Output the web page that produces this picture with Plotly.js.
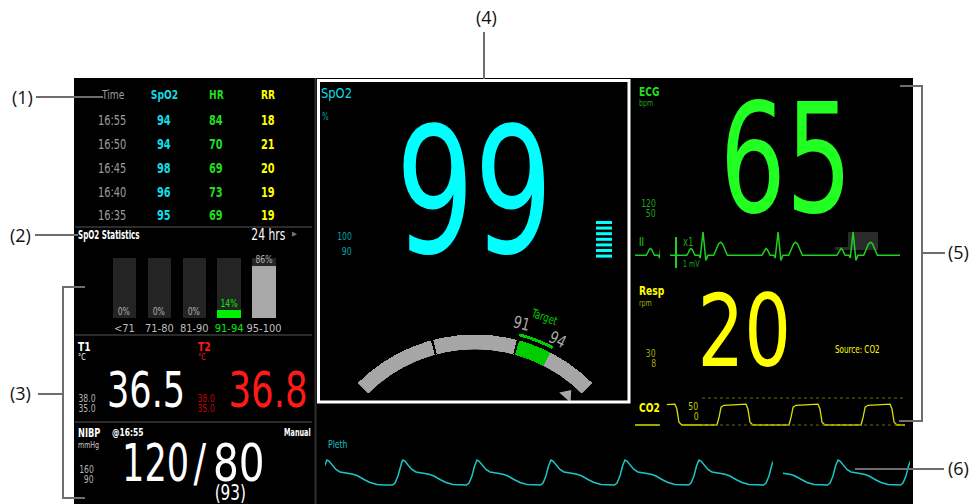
<!DOCTYPE html>
<html><head><meta charset="utf-8">
<script src="https://cdn.plot.ly/plotly-3.0.1.min.js"></script>
<style>html,body{margin:0;padding:0;background:#fff;overflow:hidden}</style>
</head><body><div id="chart" style="width:977px;height:504px"></div>
<script>
// ================= DATA =================
const trendHeader = ["Time", "SpO2", "HR", "RR"];
const trendTimes = ["16:55", "16:50", "16:45", "16:40", "16:35"];
const trendSpO2 = [94, 94, 98, 96, 95];
const trendHR = [84, 70, 69, 73, 69];
const trendRR = [18, 21, 20, 19, 19];

const statRanges = ["<71", "71-80", "81-90", "91-94", "95-100"];
const statPercent = [0, 0, 0, 14, 86];
const statPeriod = "24 hrs";

const spo2Value = 99;
const spo2Limits = [100, 90];
const spo2Target = [91, 94];

const t1Value = "36.5", t2Value = "36.8";
const tempLimits = ["38.0", "35.0"];

const nibpSys = 120, nibpDia = 80, nibpMean = 93;
const nibpTime = "16:55", nibpMode = "Manual";
const nibpLimits = [160, 90];

const hrValue = 65, hrLimits = [120, 50];
const rrValue = 20, rrLimits = [30, 8], rrSource = "CO2";
const co2Scale = [0, 50];

// ECG lead II: one beat (s relative to R peak, mV)
const ecgBeatT = [-0.2, -0.18, -0.165, -0.148, -0.131, -0.116, -0.098, -0.05, -0.035, 0, 0.035, 0.06, 0.13, 0.16, 0.19, 0.215, 0.24, 0.27, 0.3];
const ecgBeatV = [0, 0.09, 0.18, 0.22, 0.18, 0.09, 0, 0, -0.08, 0.74, -0.16, 0, 0, 0.18, 0.36, 0.42, 0.36, 0.18, 0];
const ecgOldBeats = [0.338];
const ecgNewBeats = [0.837, 1.76, 2.683];
const ecgGap = [0.308, 0.43];
const ecgSpan = 3.26;

// CO2 capnogram: one breath (s relative to upstroke, mmHg)
const co2BreathT = [0, 0.09, 0.17, 0.29, 0.6, 0.9, 1.2, 1.28, 1.37, 1.49];
const co2BreathV = [0, 15, 33, 36.5, 37.3, 38, 38.5, 30, 5, 0];
const co2OldBreaths = [];
const co2NewBreaths = [0.45, 3.39, 6.37, 9.35];
const co2Gap = [1.03, 1.32];
const co2Span = 11.17;

// Pleth: one pulse (s relative to peak, normalised amplitude)
const plethBeatT = [-0.132, -0.1, -0.063, -0.031, -0.013, 0, 0.025, 0.063, 0.113, 0.164, 0.214, 0.277, 0.34, 0.39, 0.466, 0.542, 0.63, 0.705];
const plethBeatV = [0, 0.08, 0.36, 0.76, 0.94, 1, 0.96, 0.8, 0.62, 0.52, 0.48, 0.46, 0.42, 0.36, 0.22, 0.1, 0.02, 0];
const plethNewBeats = [0.025, 0.982, 1.914, 2.846, 3.778, 4.71, 5.655];
const plethOldBeats = [5.529, 6.461, 7.38];
const plethGap = [5.642, 5.768];
const plethSpan = 7.368;

// ================= HELPERS =================
const W = 977, H = 504;
const X = px => px / W, Y = py => 1 - py / H;
const F = "'DejaVu Sans Condensed','Liberation Sans Narrow',sans-serif";
const LBL = "'Open Sans','DejaVu Sans',sans-serif";
const CYAN = '#00ffff', CYAN_T = '#10dce6', CYAN_D = '#00a6aa';
const GREEN = '#22ff22', GREEN_T = '#22dd22', GREEN_D = '#1fa51f';
const YELLOW = '#ffff00', YELLOW_D = '#a8a800';
const RED = '#ff1a1a', RED_D = '#c00000';
const GRAYT = '#9c9c9c';
const SQ = 0.78; // condensed look of the monitor font

function sweep(tT, tV, beats, from, to, base) {
  let pts = [];
  beats.forEach(b => tT.forEach((t, i) => pts.push([b + t, tV[i]])));
  const inBeat = t => beats.some(b => t >= b + tT[0] && t <= b + tT[tT.length - 1]);
  if (!inBeat(from)) pts.push([from, base]);
  if (!inBeat(to)) pts.push([to, base]);
  pts.sort((a, b) => a[0] - b[0]);
  let lo = 0; while (lo < pts.length - 1 && pts[lo + 1][0] <= from) lo++;
  let hi = pts.length - 1; while (hi > 0 && pts[hi - 1][0] >= to) hi--;
  const sel = pts.slice(lo, hi + 1);
  return {x: sel.map(p => p[0]), y: sel.map(p => p[1])};
}

const ann = [];
const squash = [];
function T(x, y, text, size, color, o = {}) {
  ann.push({xref: o.xref || 'x', yref: o.yref || 'y', x, y, text, showarrow: false, yshift: o.yshift || 0,
    xanchor: o.xa || 'center', yanchor: o.ya || 'middle', textangle: o.angle || 0,
    font: {family: o.family || F, size, color, weight: o.bold ? 700 : 400}});
  squash.push(o.family ? null : {sx: o.sx || SQ, w: o.w, size, xa: o.xa || 'center'});
}
const shapes = [];
function rect(x0, y0, x1, y1, fill, layer) {
  shapes.push({type: 'rect', xref: 'x', yref: 'y', x0, y0, x1, y1, fillcolor: fill, line: {width: 0}, layer: layer || 'below'});
}
function path(pts, color, width, layer, dash) {
  const d = pts.map((p, i) => (i ? 'L' : 'M') + p[0] + ',' + p[1]).join(' ');
  shapes.push({type: 'path', xref: 'x', yref: 'y', path: d, line: {color, width, dash: dash || 'solid'}, layer: layer || 'above'});
}

// ================= BACKGROUND / FRAMES =================
rect(74, 78, 913, 504, '#000000');
path([[315.5, 78], [315.5, 504]], '#303030', 2);
[227, 335, 422].forEach(y => path([[75, y], [312, y]], '#3a3a3a', 1.5));
shapes.push({type: 'rect', xref: 'x', yref: 'y', x0: 318.5, y0: 80.5, x1: 629, y1: 402, line: {color: '#ffffff', width: 3}, layer: 'above'});
rect(848, 232, 878, 250, '#2b2b2b');
rect(835, 247, 848, 250, '#2b2b2b');

// callout lines
const CL = '#6e6e6e';
path([[36, 97], [103, 97]], CL, 2);
path([[35, 235], [78, 235]], CL, 2);
path([[38, 394], [63, 394]], CL, 2);
path([[85, 287], [63, 287], [63, 498], [85, 498]], CL, 2);
path([[484, 32], [484, 79]], CL, 2);
path([[900, 86], [922, 86], [922, 421], [899, 421]], CL, 2);
path([[922, 253], [945, 253]], CL, 2);
path([[855, 469], [944, 469]], CL, 2);
T(22, 97, '(1)', 18, '#111', {family: LBL});
T(20, 235, '(2)', 18, '#111', {family: LBL});
T(20, 393, '(3)', 18, '#111', {family: LBL});
T(486, 17, '(4)', 18, '#111', {family: LBL});
T(958, 252, '(5)', 18, '#111', {family: LBL});
T(958, 468, '(6)', 18, '#111', {family: LBL});

// ================= TREND TABLE =================
const colX = [112, 164, 216, 268];
const rowY = [120, 144, 168, 192, 215];
const colC = [GRAYT, CYAN_T, GREEN_T, YELLOW];
trendHeader.forEach((h, j) => T(colX[j] + (j === 0 ? 1 : 0), 94, h, 13, colC[j], {bold: j > 0}));
trendTimes.forEach((t, i) => {
  T(colX[0], rowY[i], t, 14, GRAYT);
  T(colX[1], rowY[i], String(trendSpO2[i]), 14, CYAN_T, {bold: true});
  T(colX[2], rowY[i], String(trendHR[i]), 14, GREEN_T, {bold: true});
  T(colX[3], rowY[i], String(trendRR[i]), 14, YELLOW, {bold: true});
});

// ================= SpO2 STATISTICS =================
T(76, 235, 'SpO2 Statistics', 12, '#ffffff', {xa: 'left', bold: true, w: 61});
T(268, 235, statPeriod, 15, '#ffffff', {w: 33});
T(294, 234, '▶', 7, '#777777', {sx: 1});
const inTarget = statRanges.map(r => r === spo2Target.join('-'));
statPercent.forEach((v, i) => {
  T(i, v, v + '%', 11, inTarget[i] ? '#00ee00' : '#b0b0b0', {xref: 'x2', yref: 'y2', ya: 'bottom', yshift: -2});
});

// ================= TEMPERATURE =================
T(76, 346, 'T1', 13, '#ffffff', {xa: 'left', bold: true});
T(76, 357, '°C', 9, '#ffffff', {xa: 'left'});
T(196, 346, 'T2', 13, RED, {xa: 'left', bold: true});
T(196, 357, '°C', 9, RED, {xa: 'left'});
T(87, 398, tempLimits[0], 11, '#b5b5b5');
T(87, 408, tempLimits[1], 11, '#b5b5b5');
T(206, 398, tempLimits[0], 11, RED_D);
T(206, 408, tempLimits[1], 11, RED_D);
T(146, 390, t1Value, 50, '#ffffff', {w: 75});
T(268, 390, t2Value, 50, RED, {w: 76});

// ================= NIBP =================
T(76, 432, 'NIBP', 13, '#ffffff', {xa: 'left', bold: true, w: 22});
T(76, 445, 'mmHg', 9, '#cccccc', {xa: 'left'});
T(128, 432, '@' + nibpTime, 11, '#ffffff', {bold: true, w: 31});
T(313, 432, nibpMode, 11, '#ffffff', {xa: 'right', bold: true, w: 26});
T(96, 469, String(nibpLimits[0]), 11, '#b5b5b5', {xa: 'right'});
T(96, 479, String(nibpLimits[1]), 11, '#b5b5b5', {xa: 'right'});
T(155, 463, String(nibpSys), 52, '#ffffff', {w: 64});
T(200, 463, '/', 52, '#ffffff', {sx: 0.8});
T(239, 463, String(nibpDia), 52, '#ffffff', {w: 48});
T(230, 492, '(' + nibpMean + ')', 22, '#ffffff', {w: 30});

// ================= SpO2 PANEL =================
T(319, 93, 'SpO2', 14, CYAN_T, {xa: 'left', w: 30});
T(320, 116, '%', 10, CYAN_D, {xa: 'left'});
T(474, 192, String(spo2Value), 175, CYAN, {w: 146});
T(354, 236, String(spo2Limits[0]), 11, CYAN_D, {xa: 'right'});
T(354, 251, String(spo2Limits[1]), 11, CYAN_D, {xa: 'right'});
for (let i = 0; i < 7; i++) rect(596, 221 + i * 5.6, 612, 224 + i * 5.6, CYAN, 'above');
T(521, 323, String(spo2Target[0]), 17, '#a8a8a8', {angle: 14, sx: 0.85});
T(557, 339, String(spo2Target[1]), 17, '#a8a8a8', {angle: 27, sx: 0.85});
T(544, 317, 'Target', 12, '#00cc00', {angle: 20, sx: 0.8});

// ================= ECG / RESP / CO2 / PLETH labels =================
T(637, 91, 'ECG', 13, GREEN_T, {xa: 'left', bold: true});
T(637, 103, 'bpm', 9, GREEN_D, {xa: 'left'});
T(786, 159, String(hrValue), 152, GREEN, {w: 123});
T(658, 203, String(hrLimits[0]), 11, GREEN_D, {xa: 'right'});
T(658, 213, String(hrLimits[1]), 11, GREEN_D, {xa: 'right'});
T(637, 242, 'II', 12, GREEN_T, {xa: 'left'});
T(681, 242, 'x1', 12, GREEN_D, {xa: 'left'});
T(681, 264, '1 mV', 9, GREEN_D, {xa: 'left'});
path([[676, 237], [676, 268]], '#22cc22', 2);

T(637, 290, 'Resp', 13, YELLOW, {xa: 'left', bold: true});
T(637, 303, 'rpm', 9, YELLOW_D, {xa: 'left'});
T(744, 331, String(rrValue), 100, YELLOW, {w: 87});
T(833, 349, 'Source: ' + rrSource, 11, YELLOW, {xa: 'left', w: 44});
T(658, 353, String(rrLimits[0]), 11, YELLOW_D, {xa: 'right'});
T(658, 363, String(rrLimits[1]), 11, YELLOW_D, {xa: 'right'});

T(637, 407, 'CO2', 13, YELLOW, {xa: 'left', bold: true});
T(693, co2Scale[1], String(co2Scale[1]), 11, '#cccc00', {yref: 'y4', ya: 'top'});
T(696, co2Scale[0], String(co2Scale[0]), 11, '#cccc00', {yref: 'y4', ya: 'bottom'});
co2Scale.forEach(v => shapes.push({type: 'line', xref: 'x', yref: 'y4', x0: 702, x1: 905, y0: v, y1: v, line: {color: '#6d6d00', width: 1, dash: 'dot'}, layer: 'above'}));

T(326, 444, 'Pleth', 11, '#19c3c3', {xa: 'left'});

// erase bars (sweep gaps)
[['x3', 'y3', ecgGap], ['x4', 'y4', co2Gap], ['x5', 'y5', plethGap]].forEach(([xa, ya, g]) =>
  shapes.push({type: 'rect', xref: xa, yref: ya + ' domain', x0: g[0], x1: g[1], y0: 0, y1: 1, fillcolor: '#000', line: {width: 0}, layer: 'above'}));

// ================= TRACES =================
const traces = [];
traces.push({type: 'scatter', mode: 'markers', xaxis: 'x', yaxis: 'y', x: [567], y: [395],
  marker: {symbol: 'triangle-up', size: 13, angle: 41, color: '#a8a8a8', line: {width: 0}}});

traces.push({type: 'bar', xaxis: 'x2', yaxis: 'y2', x: statRanges.map((r, i) => i), y: statRanges.map(() => 100),
  width: 0.67, marker: {color: '#242424', line: {width: 0}}});
traces.push({type: 'bar', xaxis: 'x2', yaxis: 'y2', x: statRanges.map((r, i) => i), y: statPercent,
  width: 0.67, marker: {color: inTarget.map(t => t ? '#00ee00' : '#a8a8a8'), line: {width: 0}}});

[sweep(ecgBeatT, ecgBeatV, ecgOldBeats, 0, ecgGap[0], 0), sweep(ecgBeatT, ecgBeatV, ecgNewBeats, ecgGap[1], ecgSpan, 0)]
  .forEach(s => traces.push({type: 'scatter', mode: 'lines', xaxis: 'x3', yaxis: 'y3', x: s.x, y: s.y, line: {color: '#1fd01f', width: 1.5}}));
[sweep(co2BreathT, co2BreathV, co2OldBreaths, 0, co2Gap[0], 0), sweep(co2BreathT, co2BreathV, co2NewBreaths, co2Gap[1], co2Span, 0)]
  .forEach(s => traces.push({type: 'scatter', mode: 'lines', xaxis: 'x4', yaxis: 'y4', x: s.x, y: s.y, line: {color: '#dede00', width: 1.3}}));
[sweep(plethBeatT, plethBeatV, plethNewBeats, 0, plethGap[0], 0), sweep(plethBeatT, plethBeatV, plethOldBeats, plethGap[1], plethSpan, 0)]
  .forEach(s => traces.push({type: 'scatter', mode: 'lines', xaxis: 'x5', yaxis: 'y5', x: s.x, y: s.y, line: {color: '#1cc6c6', width: 1.5}}));

const gR = {band: 15, tBase: 19, tW: 3};
function gbar(theta, width, base, r, color) {
  traces.push({type: 'barpolar', subplot: 'polar', theta: [theta], width: [width], base: [base], r: [r],
    marker: {color, line: {width: 0}}});
}
gbar(90, 90, 0, gR.band, '#a6a6a6');
gbar(69, 12, 0, gR.band, '#00cc00');
gbar(75, 0.8, 0, gR.band, '#000000');
gbar(105, 0.8, 0, gR.band, '#000000');
gbar(69, 12, gR.tBase, gR.tW, '#00cc00');

const hid = {visible: false, fixedrange: true};
const layout = {
  width: W, height: H, margin: {l: 0, r: 0, t: 0, b: 0, pad: 0},
  paper_bgcolor: '#ffffff', plot_bgcolor: 'rgba(0,0,0,0)', showlegend: false,
  barmode: 'overlay', bargap: 0,
  xaxis: Object.assign({range: [0, W], domain: [0, 1]}, hid),
  yaxis: Object.assign({range: [H, 0], domain: [0, 1]}, hid),
  xaxis2: {domain: [X(107), X(281.5)], range: [-0.5, 4.5], anchor: 'y2', showgrid: false, zeroline: false, showline: false,
    tickmode: 'array', tickvals: statRanges.map((r, i) => i),
    ticktext: statRanges.map((r, i) => inTarget[i] ? '<span style="color:#00ee00">' + r + '</span>' : r.replace('<', '&lt;')),
    ticks: '', ticklabelstandoff: 2, tickfont: {family: F, size: 11, color: '#bdbdbd'}, fixedrange: true},
  yaxis2: Object.assign({domain: [Y(318), Y(258)], range: [0, 100], anchor: 'x2'}, hid),
  xaxis3: Object.assign({domain: [X(635), X(900)], range: [0, ecgSpan], anchor: 'y3'}, hid),
  yaxis3: Object.assign({domain: [Y(271), Y(224)], range: [-0.5, 1.0], anchor: 'x3'}, hid),
  xaxis4: Object.assign({domain: [X(635), X(905)], range: [0, co2Span], anchor: 'y4'}, hid),
  yaxis4: Object.assign({domain: [Y(427.7), Y(395.3)], range: [-5, 55], anchor: 'x4'}, hid),
  xaxis5: Object.assign({domain: [X(325), X(910)], range: [0, plethSpan], anchor: 'y5'}, hid),
  yaxis5: Object.assign({domain: [Y(490), Y(455)], range: [-0.2, 1.2], anchor: 'x5'}, hid),
  polar: {
    domain: {x: [X(475 - 175 * Math.SQRT1_2), X(475 + 175 * Math.SQRT1_2)], y: [Y(500.5), Y(325.5)]},
    sector: [45, 135], hole: 151 / 175, bgcolor: 'rgba(0,0,0,0)', barmode: 'overlay',
    radialaxis: {visible: false, range: [0, 24]},
    angularaxis: {visible: false, rotation: 0, direction: 'counterclockwise'}
  },
  shapes, annotations: ann
};

function condense() {
  document.querySelectorAll('#chart .annotation').forEach(g => {
    const s = squash[+g.getAttribute('data-index')];
    if (!s) return;
    const t = g.querySelector('text.annotation-text');
    if (!t) return;
    const bb = t.getBBox();
    let sx = s.sx;
    if (s.w) sx = Math.min(1, s.w / Math.max(1, bb.width - 0.08 * s.size));
    const ox = s.xa === 'left' ? bb.x : s.xa === 'right' ? bb.x + bb.width : bb.x + bb.width / 2;
    t.setAttribute('transform', 'translate(' + ox + ',0) scale(' + sx + ',1) translate(' + (-ox) + ',0)');
  });
  // condensed category labels of the statistics axis
  document.querySelectorAll('#chart .xtick text').forEach(t => {
    const bb = t.getBBox(); const ox = bb.x + bb.width / 2;
    t.setAttribute('transform', (t.getAttribute('transform') || '') + ' translate(' + ox + ',0) scale(' + SQ + ',1) translate(' + (-ox) + ',0)');
  });
}
Plotly.newPlot('chart', traces, layout, {staticPlot: true, displayModeBar: false}).then(condense);
</script></body></html>
